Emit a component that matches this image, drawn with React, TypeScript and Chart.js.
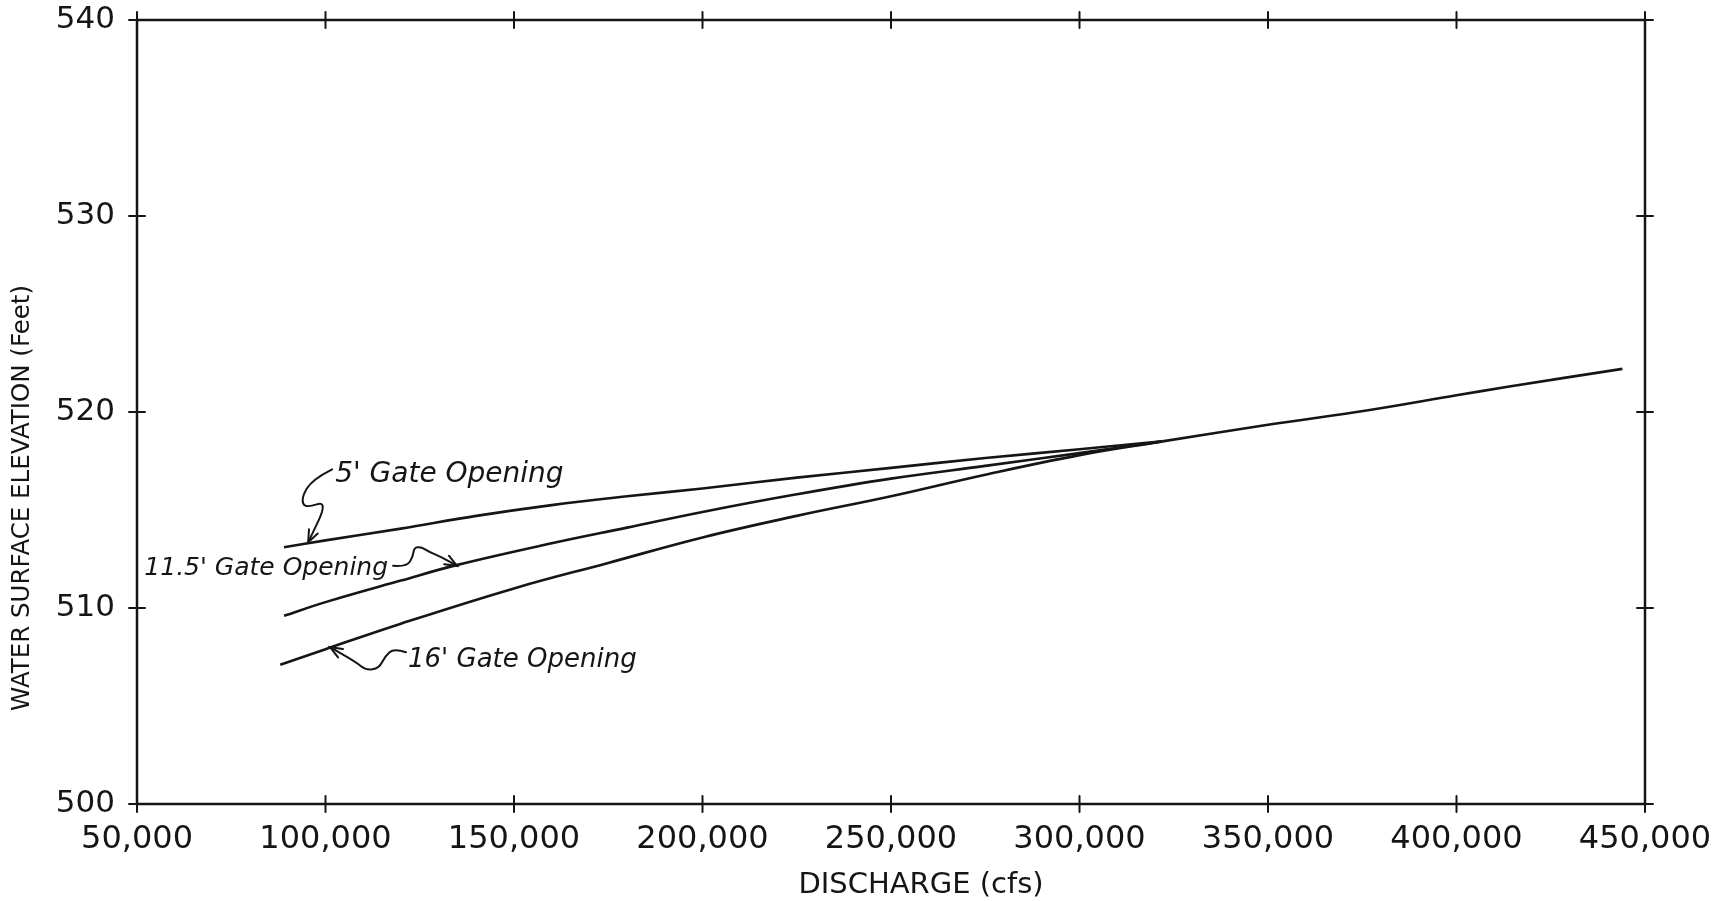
import React, { useEffect, useRef } from "react";
import { Chart, registerables } from "chart.js";

Chart.register(...registerables);

// ---- Data ----
const xTicks = [50000, 100000, 150000, 200000, 250000, 300000, 350000, 400000, 450000];
const yTicks = [500, 510, 520, 530, 540];

const gate5X = [89000, 100000, 120000, 140000, 160000, 180000, 200000, 225000, 250000, 275000, 300000, 322000];
const gate5Y = [513.1, 513.45, 514.05, 514.7, 515.25, 515.7, 516.1, 516.65, 517.15, 517.65, 518.1, 518.5];

const gate115X = [89000, 100000, 120000, 135000, 160000, 180000, 200000, 225000, 250000, 275000, 300000, 322000];
const gate115Y = [509.6, 510.3, 511.4, 512.2, 513.3, 514.1, 514.9, 515.8, 516.6, 517.25, 517.9, 518.5];

const gate16X = [88000, 100000, 120000, 150000, 175000, 200000, 225000, 250000, 275000, 300000, 322000];
const gate16Y = [507.1, 507.9, 509.2, 511.0, 512.3, 513.6, 514.7, 515.7, 516.8, 517.8, 518.5];

// common portion after the curves merge
const commonX = [322000, 350000, 377000, 400000, 414000, 444000];
const commonY = [518.5, 519.35, 520.1, 520.85, 521.3, 522.2];

const seriesLabels = ["5' Gate Opening", "11.5' Gate Opening", "16' Gate Opening"];
const xTitle = "DISCHARGE (cfs)";
const yTitle = "WATER SURFACE ELEVATION (Feet)";

// annotation anchors (arrow tips) in data units
const anno5Tip = [95400, 513.35];
const anno115Tip = [134900, 512.15];
const anno16Tip = [101200, 508.0];

const INK = "#151515";
const FONT = "'DejaVu Sans', sans-serif";

function toPts(xs: number[], ys: number[]) {
  return xs.map((x, i) => ({ x, y: ys[i] }));
}

function smoothPath(ctx: CanvasRenderingContext2D, pts: number[][]) {
  ctx.beginPath();
  ctx.moveTo(pts[0][0], pts[0][1]);
  for (let i = 1; i < pts.length - 1; i++) {
    const mx = (pts[i][0] + pts[i + 1][0]) / 2;
    const my = (pts[i][1] + pts[i + 1][1]) / 2;
    ctx.quadraticCurveTo(pts[i][0], pts[i][1], mx, my);
  }
  const last = pts[pts.length - 1];
  ctx.lineTo(last[0], last[1]);
  ctx.stroke();
}

function arrowHead(ctx: CanvasRenderingContext2D, tx: number, ty: number, fx: number, fy: number) {
  const ang = Math.atan2(fy - ty, fx - tx);
  const len = 13;
  const spread = 0.38;
  ctx.beginPath();
  ctx.moveTo(tx + len * Math.cos(ang + spread), ty + len * Math.sin(ang + spread));
  ctx.lineTo(tx, ty);
  ctx.lineTo(tx + len * Math.cos(ang - spread), ty + len * Math.sin(ang - spread));
  ctx.stroke();
}

function drawAnnotation(
  ctx: CanvasRenderingContext2D,
  tip: number[],
  rel: number[][],
  text: string,
  textRel: number[],
  align: CanvasTextAlign,
  size: number
) {
  const [tx, ty] = tip;
  const pts = rel.map(([dx, dy]) => [tx + dx, ty + dy]);
  pts.push([tx, ty]);
  ctx.lineWidth = 2;
  smoothPath(ctx, pts);
  const prev = pts[pts.length - 2];
  arrowHead(ctx, tx, ty, prev[0], prev[1]);
  ctx.font = "italic " + size + "px " + FONT;
  ctx.textAlign = align;
  ctx.textBaseline = "alphabetic";
  ctx.fillText(text, tx + textRel[0], ty + textRel[1]);
}

const framePlugin = {
  id: "frameAndNotes",
  afterDraw(chart: any) {
    const { ctx, chartArea: a, scales } = chart;
    const xs = scales.x;
    const ys = scales.y;
    ctx.save();
    ctx.strokeStyle = INK;
    ctx.fillStyle = INK;
    ctx.lineCap = "round";
    // frame
    ctx.lineWidth = 2.5;
    ctx.strokeRect(a.left, a.top, a.right - a.left, a.bottom - a.top);
    // crossing ticks
    ctx.lineWidth = 2;
    const t = 8;
    const seg = (x1: number, y1: number, x2: number, y2: number) => {
      ctx.beginPath();
      ctx.moveTo(x1, y1);
      ctx.lineTo(x2, y2);
      ctx.stroke();
    };
    xTicks.forEach((v) => {
      const px = xs.getPixelForValue(v);
      seg(px, a.bottom - t, px, a.bottom + t);
      seg(px, a.top - t, px, a.top + t);
    });
    yTicks.forEach((v) => {
      const py = ys.getPixelForValue(v);
      seg(a.left - t, py, a.left + t, py);
      seg(a.right - t, py, a.right + t, py);
    });

    // axis titles
    ctx.font = "29px " + FONT;
    ctx.textAlign = "center";
    ctx.textBaseline = "alphabetic";
    ctx.fillText(xTitle, (a.left + a.right) / 2 + 30, a.bottom + 89);
    ctx.save();
    ctx.translate(a.left - 114, (a.top + a.bottom) / 2 + 86);
    ctx.rotate(-Math.PI / 2);
    ctx.font = "24.5px " + FONT;
    ctx.textBaseline = "middle";
    ctx.fillText(yTitle, 0, 0);
    ctx.restore();

    // annotations
    const p = (d: number[]) => [xs.getPixelForValue(d[0]), ys.getPixelForValue(d[1])];
    drawAnnotation(
      ctx,
      p(anno5Tip),
      [[24, -73], [4, -63], [-7, -44], [-3, -34], [20, -42]],
      seriesLabels[0],
      [27, -60],
      "left",
      28
    );
    drawAnnotation(
      ctx,
      p(anno115Tip),
      [[-64, 0], [-50, 1], [-44, -10], [-43, -18], [-36, -19], [-28, -14], [-16, -9]],
      seriesLabels[1],
      [-69, 9],
      "right",
      25
    );
    drawAnnotation(
      ctx,
      p(anno16Tip),
      [[76, 5], [64, 1], [55, 9], [49, 21], [36, 23], [26, 15]],
      seriesLabels[2],
      [78, 20],
      "left",
      26
    );
    ctx.restore();
  },
};

export default function App() {
  const ref = useRef<HTMLCanvasElement | null>(null);

  useEffect(() => {
    document.body.style.margin = "0";
    document.body.style.overflow = "hidden";
    if (!ref.current) return;
    const lineStyle = {
      showLine: true,
      borderColor: INK,
      borderWidth: 2.6,
      pointRadius: 0,
      tension: 0.4,
      fill: false,
    };
    const chart = new Chart(ref.current, {
      type: "scatter",
      data: {
        datasets: [
          { label: seriesLabels[0], data: toPts(gate5X, gate5Y), ...lineStyle },
          { label: seriesLabels[1], data: toPts(gate115X, gate115Y), ...lineStyle },
          { label: seriesLabels[2], data: toPts(gate16X, gate16Y), ...lineStyle },
          { label: "common", data: toPts(commonX, commonY), ...lineStyle },
        ],
      },
      options: {
        animation: false,
        responsive: true,
        maintainAspectRatio: false,
        layout: { padding: { top: 20, right: 85, left: 0, bottom: 0 } },
        plugins: { legend: { display: false }, tooltip: { enabled: false }, title: { display: false } },
        scales: {
          x: {
            type: "linear",
            min: 50000,
            max: 450000,
            grid: { display: false },
            border: { display: false },
            afterFit: (s: any) => {
              s.height = 97;
              s.paddingLeft = 0;
              s.paddingRight = 0;
            },
            afterBuildTicks: (s: any) => {
              s.ticks = xTicks.map((v) => ({ value: v }));
            },
            ticks: {
              color: INK,
              font: { family: FONT, size: 32 },
              padding: 8,
              maxRotation: 0,
              autoSkip: false,
              callback: (v: any) => Number(v).toLocaleString("en-US"),
            },
          },
          y: {
            type: "linear",
            min: 500,
            max: 540,
            grid: { display: false },
            border: { display: false },
            afterFit: (s: any) => {
              s.width = 137;
              s.paddingTop = 0;
              s.paddingBottom = 0;
            },
            afterBuildTicks: (s: any) => {
              s.ticks = yTicks.map((v) => ({ value: v }));
            },
            ticks: {
              color: INK,
              font: { family: FONT, size: 31 },
              padding: 14,
              autoSkip: false,
              callback: (v: any) => String(v),
            },
          },
        },
      },
      plugins: [framePlugin],
    });
    return () => chart.destroy();
  }, []);

  return (
    <div style={{ width: 1730, height: 901, position: "relative", background: "#fff" }}>
      <canvas ref={ref} />
    </div>
  );
}
